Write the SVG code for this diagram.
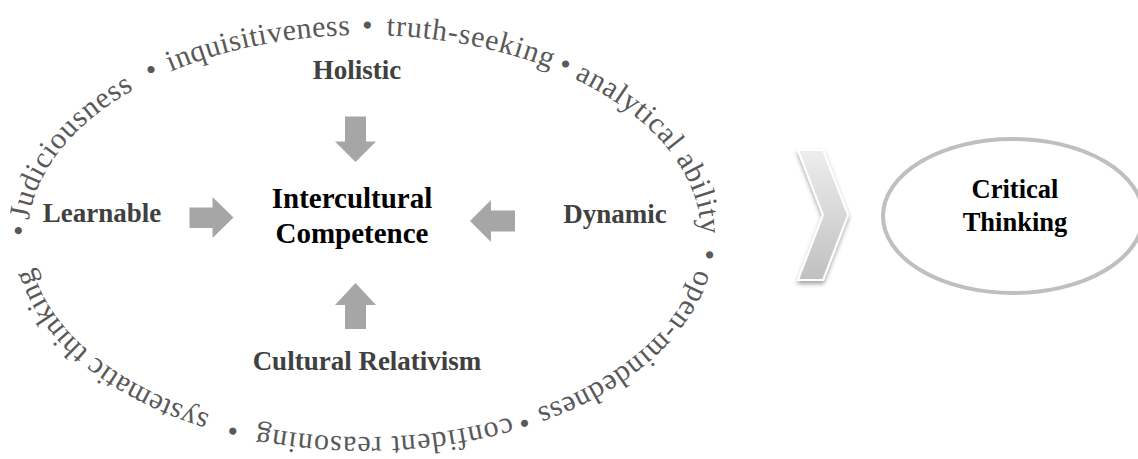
<svg xmlns="http://www.w3.org/2000/svg" width="1138" height="459" viewBox="0 0 1138 459">
<defs>
<style>
.ring{font-family:"Liberation Serif","Times New Roman",serif;font-size:30px;fill:#595959;text-anchor:middle}
.lbl{font-family:"Liberation Serif","Times New Roman",serif;font-weight:bold;font-size:27px;fill:#404040;text-anchor:middle}
.main{font-family:"Liberation Serif","Times New Roman",serif;font-weight:bold;font-size:29px;fill:#000000;text-anchor:middle}
.ct{font-family:"Liberation Serif","Times New Roman",serif;font-weight:bold;font-size:26.5px;fill:#000000;text-anchor:middle}
.arrow{fill:#A6A6A6}
</style>
<path id="ring" d="M 28 236 A 336.5 201 0 1 1 701 236 A 336.5 201 0 1 1 28 236"/>
<linearGradient id="chevGrad" x1="0" y1="0" x2="0" y2="1">
<stop offset="0" stop-color="#eeeeee"/>
<stop offset="1" stop-color="#c0c0c0"/>
</linearGradient>
<filter id="shadow" x="-30%" y="-20%" width="160%" height="140%">
<feDropShadow dx="0" dy="3" stdDeviation="2" flood-color="#000" flood-opacity="0.35"/>
</filter>
</defs>
<rect width="1138" height="459" fill="#ffffff"/>

<g id="ring-text">
<text class="ring"><textPath href="#ring" startOffset="0.3%">•</textPath></text>
<text class="ring" letter-spacing="0.7"><textPath href="#ring" startOffset="6.0%">Judiciousness</textPath></text>
<text class="ring"><textPath href="#ring" startOffset="12.44%">•</textPath></text>
<text class="ring" letter-spacing="0.4"><textPath href="#ring" startOffset="18.8%">inquisitiveness</textPath></text>
<text class="ring"><textPath href="#ring" startOffset="25.17%">•</textPath></text>
<text class="ring" letter-spacing="0.8"><textPath href="#ring" startOffset="31.2%">truth-seeking</textPath></text>
<text class="ring"><textPath href="#ring" startOffset="36.77%">•</textPath></text>
<text class="ring" letter-spacing="0.6"><textPath href="#ring" startOffset="43.76%">analytical ability</textPath></text>
<text class="ring"><textPath href="#ring" startOffset="51.02%">•</textPath></text>
<text class="ring" letter-spacing="0.7"><textPath href="#ring" startOffset="58.4%">open-mindedness</textPath></text>
<text class="ring"><textPath href="#ring" startOffset="65.72%">•</textPath></text>
<text class="ring" letter-spacing="1.0"><textPath href="#ring" startOffset="73.85%">confident reasoning</textPath></text>
<text class="ring"><textPath href="#ring" startOffset="82.62%">•</textPath></text>
<text class="ring" letter-spacing="0.3"><textPath href="#ring" startOffset="91.14%">systematic thinking</textPath></text>
</g>

<g id="connectors">
<polygon class="arrow" points="345,116.5 366,116.5 366,141.5 376,141.5 355.5,162 335,141.5 345,141.5"/>
<polygon class="arrow" points="355.5,283 376,305 366,305 366,329 345,329 345,305 335,305"/>
<polygon class="arrow" points="189.5,207.5 212.5,207.5 212.5,197 233.5,217.5 212.5,238 212.5,228 189.5,228"/>
<polygon class="arrow" points="470,221 491,200 491,210.5 515,210.5 515,231.5 491,231.5 491,242"/>
</g>

<g id="node-intercultural">
<text class="main" x="352" y="208">Intercultural</text>
<text class="main" x="352" y="243">Competence</text>
</g>
<g id="node-holistic"><text class="lbl" x="357" y="79">Holistic</text></g>
<g id="node-learnable"><text class="lbl" x="102" y="222">Learnable</text></g>
<g id="node-dynamic"><text class="lbl" x="615" y="223">Dynamic</text></g>
<g id="node-cultural-relativism"><text class="lbl" x="367" y="370">Cultural Relativism</text></g>

<g id="node-chevron">
<polygon points="798,150 823,150 848,215 823,280 798,280 823,215" fill="url(#chevGrad)" stroke="#ffffff" stroke-width="2" stroke-linejoin="miter" filter="url(#shadow)"/>
</g>

<g id="node-critical-thinking">
<ellipse cx="1013" cy="216" rx="130" ry="77" fill="#ffffff" stroke="#BFBFBF" stroke-width="4"/>
<text class="ct" x="1015" y="198">Critical</text>
<text class="ct" x="1015" y="231">Thinking</text>
</g>
</svg>
